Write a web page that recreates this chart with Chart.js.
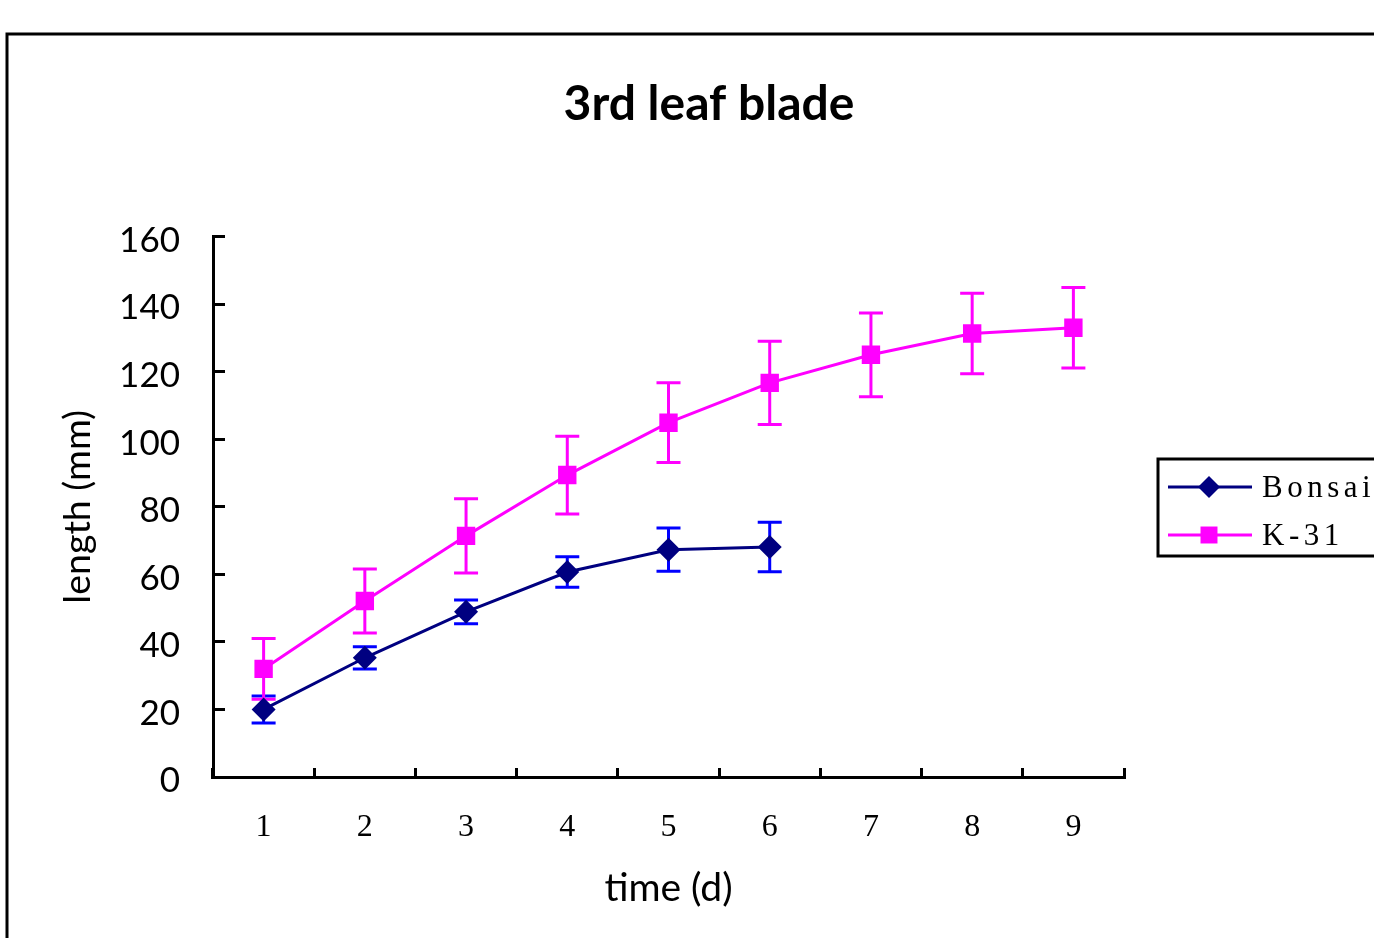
<!DOCTYPE html>
<html>
<head>
<meta charset="utf-8">
<script src="https://cdn.jsdelivr.net/npm/chart.js@4.4.1/dist/chart.umd.min.js"></script>
<style>
  html, body { margin: 0; padding: 0; background: #fff; overflow: hidden; }
  #wrap { position: relative; width: 1374px; height: 938px; overflow: hidden; }
  #chart { position: absolute; left: 0; top: 0; }
</style>
</head>
<body>
<div id="wrap"><canvas id="chart" width="1418" height="938"></canvas></div>
<script>
// values
const days = ['1', '2', '3', '4', '5', '6', '7', '8', '9'];
const bonsaiLength = [20, 35.3, 48.9, 60.7, 67.3, 68.1, null, null, null];
const bonsaiErr = [4, 3.3, 3.5, 4.5, 6.4, 7.3, null, null, null];
const k31Length = [32, 52.1, 71.4, 89.4, 104.9, 116.7, 125, 131.3, 133];
const k31Err = [9, 9.5, 11, 11.5, 11.8, 12.3, 12.4, 11.9, 11.9];
const yTicks = [0, 20, 40, 60, 80, 100, 120, 140, 160];

// white page + the outer chart frame
const frame = {
    id: 'frame',
    beforeDraw(chart) {
        const ctx = chart.ctx;
        ctx.save();
        ctx.fillStyle = '#fff';
        ctx.fillRect(0, 0, chart.width, chart.height);
        ctx.strokeStyle = '#000';
        ctx.lineWidth = 3;
        ctx.strokeRect(7, 34, 1600, 1600);
        ctx.restore();
    }
};

// vertical error bars with caps, under the markers
const errorBars = {
    id: 'errorBars',
    beforeDatasetsDraw(chart) {
        const ctx = chart.ctx;
        const y = chart.scales.y;
        chart.data.datasets.forEach((ds, i) => {
            const meta = chart.getDatasetMeta(i);
            ctx.save();
            ctx.strokeStyle = ds.errorColor;
            ctx.lineWidth = 3;
            meta.data.forEach((pt, j) => {
                const v = ds.data[j];
                const e = ds.errors[j];
                if (v == null || e == null) return;
                const top = y.getPixelForValue(v + e);
                const bot = y.getPixelForValue(v - e);
                ctx.beginPath();
                ctx.moveTo(pt.x, top); ctx.lineTo(pt.x, bot);
                ctx.moveTo(pt.x - 12, top); ctx.lineTo(pt.x + 12, top);
                ctx.moveTo(pt.x - 12, bot); ctx.lineTo(pt.x + 12, bot);
                ctx.stroke();
            });
            ctx.restore();
        });
    }
};

// boxed legend at the right edge, like the spreadsheet one
const boxLegend = {
    id: 'boxLegend',
    afterDraw(chart) {
        const ctx = chart.ctx;
        ctx.save();
        ctx.strokeStyle = '#000';
        ctx.lineWidth = 3;
        ctx.strokeRect(1158, 459, 300, 97);
        chart.data.datasets.forEach((ds, i) => {
            const cy = 487 + i * 48;
            ctx.strokeStyle = ds.borderColor;
            ctx.lineWidth = 3;
            ctx.beginPath();
            ctx.moveTo(1168, cy);
            ctx.lineTo(1252, cy);
            ctx.stroke();
            ctx.fillStyle = ds.pointBackgroundColor;
            Chart.helpers.drawPoint(ctx, { pointStyle: ds.pointStyle, radius: ds.pointRadius - 1, borderWidth: 0, rotation: 0 }, 1209, cy);
            ctx.fillStyle = '#000';
            ctx.font = '31px "Liberation Serif"';
            ctx.letterSpacing = '4.5px';
            ctx.textBaseline = 'middle';
            ctx.fillText(ds.label, 1262, cy + 2);
        });
        ctx.restore();
    }
};

new Chart(document.getElementById('chart'), {
    type: 'line',
    data: {
        labels: days,
        datasets: [
            {
                label: 'Bonsai',
                data: bonsaiLength,
                errors: bonsaiErr,
                errorColor: '#0000ff',
                borderColor: '#000080',
                backgroundColor: '#000080',
                pointBackgroundColor: '#000080',
                pointBorderWidth: 0,
                pointStyle: 'rectRot',
                pointRadius: 12,
                borderWidth: 3
            },
            {
                label: 'K-31',
                data: k31Length,
                errors: k31Err,
                errorColor: '#ff00ff',
                borderColor: '#ff00ff',
                backgroundColor: '#ff00ff',
                pointBackgroundColor: '#ff00ff',
                pointBorderWidth: 0,
                pointStyle: 'rect',
                pointRadius: 13,
                borderWidth: 3
            }
        ]
    },
    options: {
        responsive: false,
        animation: false,
        layout: { padding: 0 },
        plugins: {
            legend: { display: false },
            tooltip: { enabled: false },
            title: {
                display: true,
                text: '3rd leaf blade',
                color: '#000',
                font: { family: 'Lato', size: 48, weight: 'bold' },
                padding: { top: 76, bottom: 103 }
            }
        },
        scales: {
            x: {
                offset: true,
                grid: { display: true, drawOnChartArea: false, offset: true, tickLength: -9, tickWidth: 3, tickColor: '#000' },
                border: { color: '#000', width: 3 },
                ticks: { color: '#000', padding: 40, font: { family: 'Liberation Serif', size: 32 } },
                title: {
                    display: true,
                    text: 'time (d)',
                    color: '#000',
                    font: { family: 'Lato', size: 39 },
                    padding: { top: 0, bottom: 26 }
                },
                afterFit(s) { s.height = 161; }
            },
            y: {
                min: yTicks[0],
                max: yTicks[yTicks.length - 1],
                ticks: { stepSize: yTicks[1] - yTicks[0], color: '#000', padding: 45, labelOffset: 4, font: { family: 'Lato', size: 35 } },
                grid: { display: true, drawOnChartArea: false, tickLength: -12, tickWidth: 3, tickColor: '#000' },
                border: { color: '#000', width: 3 },
                title: {
                    display: true,
                    text: 'length (mm)',
                    color: '#000',
                    font: { family: 'Lato', size: 37.5 },
                    padding: { top: 55, bottom: 0 }
                },
                afterFit(s) { s.width = 213; }
            },
            gap: {
                type: 'linear',
                position: 'right',
                display: true,
                grid: { display: false },
                ticks: { display: false },
                border: { display: false },
                afterFit(s) { s.width = 1418 - 1124; }
            }
        }
    },
    plugins: [frame, errorBars, boxLegend]
});
</script>
</body>
</html>
